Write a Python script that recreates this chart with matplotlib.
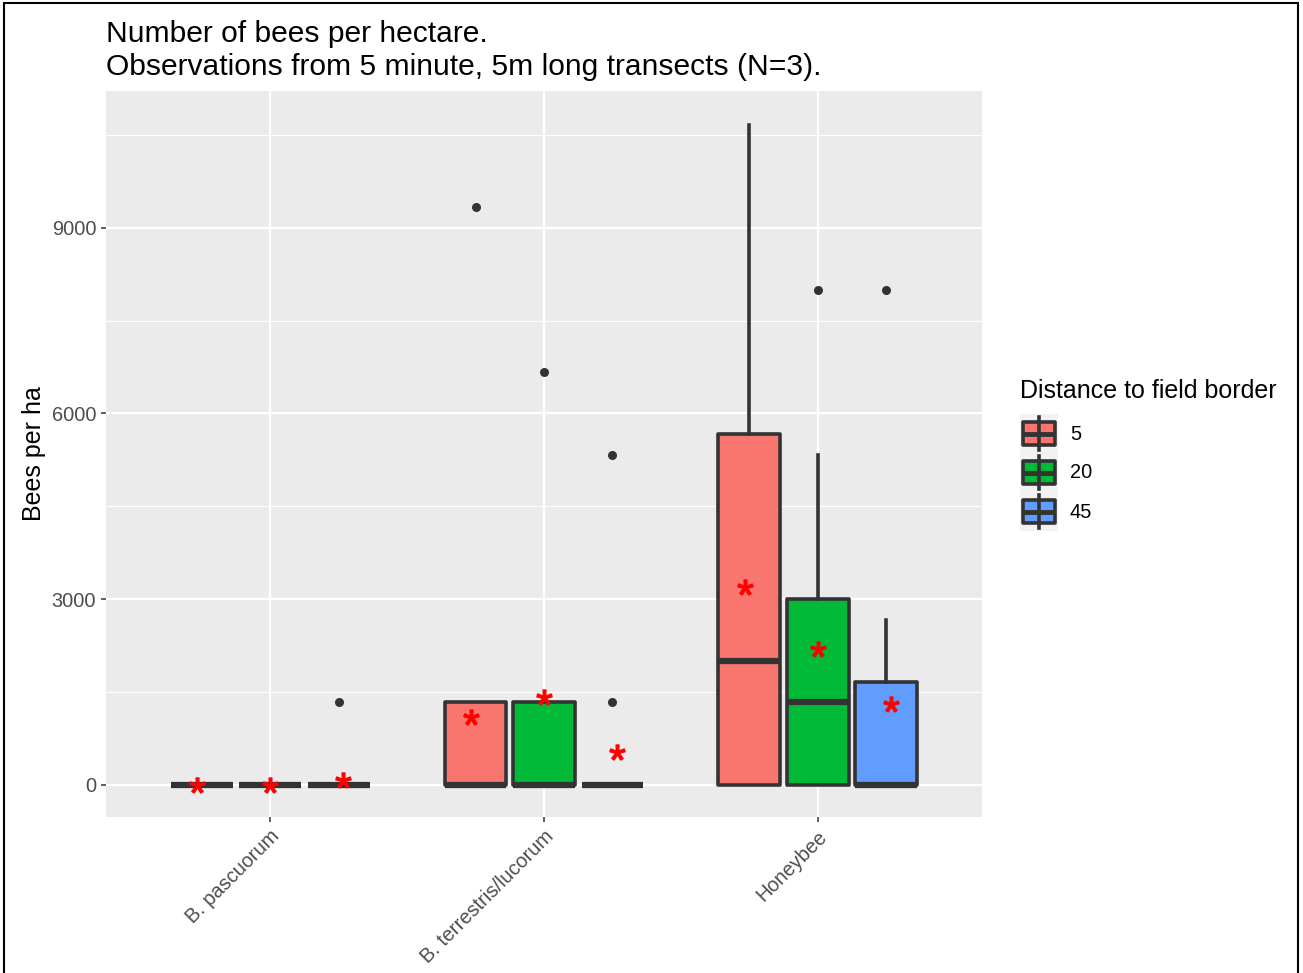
import matplotlib.pyplot as plt
from matplotlib.patches import Rectangle

plt.rcParams['font.family'] = ['Liberation Sans', 'DejaVu Sans']
plt.rcParams['mathtext.fontset'] = 'custom'
plt.rcParams['mathtext.rm'] = 'Liberation Sans'
plt.rcParams['mathtext.default'] = 'rm'

# data (bees per ha)
species = ['B. pascuorum', 'B. terrestris/lucorum', 'Honeybee']
distances = ['5', '20', '45']
colors = ['#F8766D', '#00BA38', '#619CFF']

# one row per species, one column per distance
q1 = [[0, 0, 0], [0, 0, 0], [0, 0, 0]]
med = [[0, 0, 0], [0, 0, 0], [2000, 1333, 0]]
q3 = [[0, 0, 0], [1333, 1333, 0], [5667, 3000, 1667]]
whis_lo = [[0, 0, 0], [0, 0, 0], [0, 0, 0]]
whis_hi = [[0, 0, 0], [1333, 1333, 0], [10667, 5333, 2667]]
outliers = [[[], [], [1333]],
            [[9333], [6667], [5333, 1333]],
            [[], [8000], [8000]]]
means = [[0, 0, 85], [1100, 1422, 533], [3200, 2200, 1310]]

W, H = 1303, 973
fig = plt.figure(figsize=(W / 100, H / 100), dpi=100)
ax = fig.add_axes([106 / W, 1 - 817 / H, (982 - 106) / W, (817 - 91) / H])

ax.set_facecolor('#EBEBEB')
for s in ax.spines.values():
    s.set_visible(False)
ax.set_xlim(0.4, 3.6)
ax.set_ylim(-520, 11210)
ax.set_yticks([0, 3000, 6000, 9000])
ax.set_yticks([1500, 4500, 7500, 10500], minor=True)
ax.set_xticks([1, 2, 3])
ax.set_xticklabels(species, rotation=45, ha='right', va='top',
                   rotation_mode='anchor')
ax.grid(True, which='major', color='white', linewidth=1.6)
ax.grid(True, which='minor', axis='y', color='white', linewidth=0.8)
ax.set_axisbelow(True)
ax.tick_params(which='major', length=3.5, width=1.1, color='#333333',
               labelcolor='#4D4D4D', labelsize=14.4, pad=3.5)
ax.tick_params(which='minor', length=0)
ax.set_ylabel('Bees per ha', fontsize=18, labelpad=4)

line_c = '#333333'
for i in range(len(species)):
    for j in range(len(distances)):
        pos = i + 1 + (j - 1) * 0.25
        stats = [{'q1': q1[i][j], 'med': med[i][j], 'q3': q3[i][j],
                  'whislo': whis_lo[i][j], 'whishi': whis_hi[i][j],
                  'fliers': outliers[i][j]}]
        ax.bxp(stats, positions=[pos], widths=0.226, patch_artist=True,
               showcaps=False, manage_ticks=False,
               boxprops=dict(facecolor=colors[j], edgecolor=line_c,
                             linewidth=2.6, joinstyle='round'),
               medianprops=dict(color=line_c, linewidth=4.5,
                                solid_capstyle='butt'),
               whiskerprops=dict(color=line_c, linewidth=2.6),
               flierprops=dict(marker='o', markerfacecolor=line_c,
                               markeredgecolor='none', markersize=6.5))
        ax.plot(i + 1 + (j - 1) * 0.267, means[i][j], marker='$*$',
                color='red', markersize=11, linestyle='none', zorder=5)

fig.text(106 / W, 1 - 20 / H,
         'Number of bees per hectare.\nObservations from 5 minute, 5m long transects (N=3).',
         fontsize=21.6, va='top', ha='left', linespacing=1.22)

# legend drawn by hand as boxplot keys
lax = fig.add_axes([1020 / W, 1 - 531 / H, 38 / W, 117 / H])
lax.set_xlim(0, 1)
lax.set_ylim(0, 3)
lax.axis('off')
for j, c in enumerate(colors):
    y0 = 2 - j
    lax.add_patch(Rectangle((0, y0), 1, 1, facecolor='#F2F2F2', edgecolor='none'))
    lax.plot([0.5, 0.5], [y0 + 0.08, y0 + 0.92], color=line_c, lw=2.6)
    lax.add_patch(Rectangle((0.09, y0 + 0.2), 0.82, 0.6, facecolor=c,
                            edgecolor=line_c, lw=2.6, joinstyle='round'))
    lax.plot([0.09, 0.91], [y0 + 0.5, y0 + 0.5], color=line_c, lw=3.5,
             solid_capstyle='butt')
    fig.text(1070 / W, 1 - (434 + 39 * j) / H, distances[j], fontsize=14.4,
             va='center', ha='left')
fig.text(1020 / W, 1 - 391 / H, 'Distance to field border', fontsize=18,
         va='center', ha='left')

# frame around the whole picture
fig.patches.append(Rectangle((4 / W, -0.02), (1298 - 4) / W, 1.02 - 3 / H,
                             transform=fig.transFigure, fill=False,
                             edgecolor='black', linewidth=1.5))

fig.savefig('out.png', dpi=100)
